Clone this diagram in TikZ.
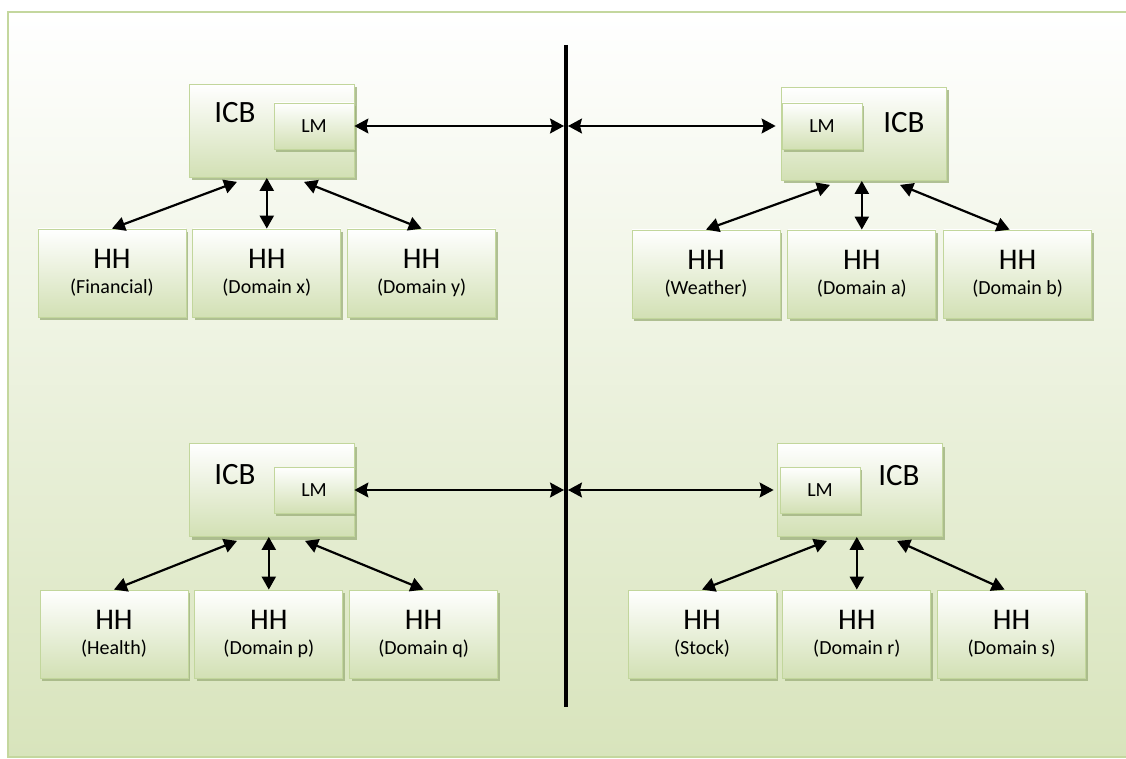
\documentclass[tikz,border=0pt]{standalone}
\usepackage{fontspec}
\setmainfont{Carlito}
\usepackage{tikz}
\usetikzlibrary{arrows.meta,positioning,shadows}
\definecolor{rim}{HTML}{C4D79E}
\definecolor{bgbot}{HTML}{D8E4BC}
\definecolor{boxbot}{HTML}{D2E0B4}
\definecolor{edge}{HTML}{C2D69C}
\definecolor{shad}{HTML}{9FB27E}
\tikzset{
  shbox/.style={draw=edge,line width=0.8pt,top color=white,bottom color=boxbot,inner sep=0pt,
    drop shadow={shadow xshift=2pt,shadow yshift=-3pt,fill=shad,opacity=0.8}},
  icb/.style={shbox,minimum width=165pt,minimum height=93pt},
  lm/.style={shbox,minimum width=80pt,minimum height=46pt,font=\fontsize{20}{20}\selectfont},
  hh/.style={shbox,minimum width=148pt,minimum height=88pt,align=center,font=\fontsize{20}{25}\selectfont},
  big/.style={font=\fontsize{31}{31}\selectfont},
  arr/.style={{Triangle[length=13pt,width=14pt]}-{Triangle[length=13pt,width=14pt]},line width=2.2pt},
  harr/.style={{Stealth[length=14pt,width=15pt,inset=2pt]}-{Stealth[length=14pt,width=15pt,inset=2pt]},line width=1.5pt}}
\newcommand\hhtxt[1]{{\fontsize{30}{30}\selectfont HH}\\(#1)}

\begin{document}
\begin{tikzpicture}[x=1pt,y=-1pt,node distance=6pt]
\useasboundingbox (0,0) rectangle (1126,759);
\fill[white] (0,0) rectangle (1126,759);
\draw[rim,line width=2pt,top color=white,bottom color=bgbot] (8,12) rectangle (1132,757);
% divider
\coordinate (vtop) at (566,45); \coordinate (vbot) at (566,707);
\draw[line width=4pt] (vtop) -- (vbot);
% top left
\node[icb] (icb1) at (272,131) {};
\node[big] (t1) at (235,113) {ICB};
\node[lm] (lm1) at (314,126) {LM};
\node[hh] (hh1a) at (112,273) {\hhtxt{Financial}};
\node[hh,right=of hh1a] (hh1b) {\hhtxt{Domain x}};
\node[hh,right=of hh1b] (hh1c) {\hhtxt{Domain y}};
\draw[arr] ([xshift=-35pt,yshift=-4pt]icb1.south) -- (hh1a.north); \draw[arr] (hh1b.north |- icb1.south) -- (hh1b.north); \draw[arr] ([xshift=32pt,yshift=-4pt]icb1.south) -- (hh1c.north);
\draw[harr] (lm1.east) -- ([xshift=-2pt]lm1.east -| vtop);
% top right
\node[icb] (icb2) at (864,134) {};
\node[big] (t2) at (904,123) {ICB};
\node[lm] (lm2) at (822,126) {LM};
\node[hh] (hh2a) at (706,274) {\hhtxt{Weather}};
\node[hh,right=7pt of hh2a] (hh2b) {\hhtxt{Domain a}};
\node[hh,right=7pt of hh2b] (hh2c) {\hhtxt{Domain b}};
\draw[arr] ([xshift=-34pt,yshift=-4pt]icb2.south) -- (hh2a.north); \draw[arr] (hh2b.north |- icb2.south) -- (hh2b.north); \draw[arr] ([xshift=36pt,yshift=-4pt]icb2.south) -- ([xshift=-8pt]hh2c.north);
\draw[harr] ([xshift=2pt]lm2.west -| vtop) -- ([xshift=-6pt]lm2.west);
% bottom left
\node[icb] (icb3) at (272,490) {};
\node[big] (t3) at (235,475) {ICB};
\node[lm] (lm3) at (314,490) {LM};
\node[hh] (hh3a) at (114,634) {\hhtxt{Health}};
\node[hh,right=of hh3a] (hh3b) {\hhtxt{Domain p}};
\node[hh,right=of hh3b] (hh3c) {\hhtxt{Domain q}};
\draw[arr] ([xshift=-35pt,yshift=-4pt]icb3.south) -- (hh3a.north); \draw[arr] (hh3b.north |- icb3.south) -- (hh3b.north); \draw[arr] ([xshift=33pt,yshift=-4pt]icb3.south) -- (hh3c.north);
\draw[harr] (lm3.east) -- ([xshift=-2pt]lm3.east -| vtop);
% bottom right
\node[icb] (icb4) at (860,490) {};
\node[big] (t4) at (899,476) {ICB};
\node[lm] (lm4) at (820,490) {LM};
\node[hh] (hh4a) at (702,634) {\hhtxt{Stock}};
\node[hh,right=of hh4a] (hh4b) {\hhtxt{Domain r}};
\node[hh,right=of hh4b] (hh4c) {\hhtxt{Domain s}};
\draw[arr] ([xshift=-33pt,yshift=-4pt]icb4.south) -- (hh4a.north); \draw[arr] (hh4b.north |- icb4.south) -- (hh4b.north); \draw[arr] ([xshift=37pt,yshift=-4pt]icb4.south) -- ([xshift=-7pt]hh4c.north);
\draw[harr] ([xshift=2pt]lm4.west -| vtop) -- ([xshift=-6pt]lm4.west);
\end{tikzpicture}
\end{document}
